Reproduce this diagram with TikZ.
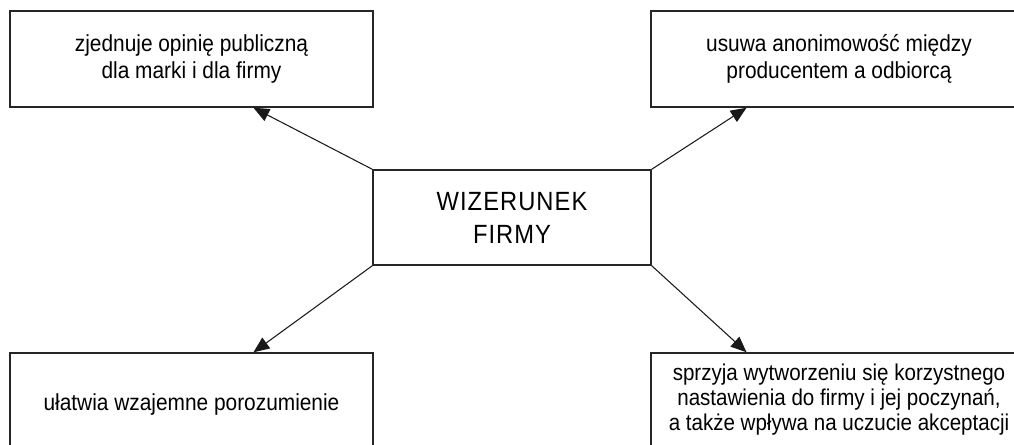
\documentclass[tikz,border=0pt]{standalone}
\usepackage{fontspec}
\setmainfont[FakeStretch=0.9]{Liberation Sans}
\newfontfamily\corefont[FakeStretch=0.9, LetterSpace=4]{Liberation Sans}
\usetikzlibrary{arrows.meta,calc}

\begin{document}
\begin{tikzpicture}[
        x=0.02cm, y=-0.02cm,
        font=\fontsize{13.2}{15}\selectfont,
        >={Triangle[length=9pt, width=7.5pt]},
        box/.style={rectangle, draw=black!85, line width=0.85pt, align=center,
            inner sep=2pt, minimum width=7.26cm, minimum height=1.92cm},
        wide/.style={box, minimum width=7.52cm},
        core/.style={box, minimum width=5.56cm, minimum height=1.9cm,
            font=\corefont\fontsize{15}{18.7}\selectfont},
        link/.style={->, line width=0.6pt, black!90}
    ]
        \path[use as bounding box, clip] (0,0) rectangle (1014,444);

        \node[core] (wiz) at (512,217.5) {WIZERUNEK\\FIRMY};

        \node[box]  (zop)  at (191.5,59)  {zjednuje opinię publiczną\\dla marki i dla firmy};
        \node[wide] (usu)  at (839,59)    {usuwa anonimowość między\\producentem a odbiorcą};
        \node[box, minimum height=2.04cm] (ulat) at (191.5,404) {ułatwia wzajemne porozumienie};
        \node[wide, minimum height=1.88cm, font=\fontsize{13}{14.2}\selectfont] (sprz) at (839,400)
            {sprzyja wytworzeniu się korzystnego\\nastawienia do firmy i jej poczynań,\\a także wpływa na uczucie akceptacji};

        \draw[link] (wiz.north west) -- ($(zop.south west)!0.67!(zop.south east)$);
        \draw[link] (wiz.north east) -- ($(usu.north west |- usu.south)!0.255!(usu.south east)$);
        \draw[link] (wiz.south west) -- ($(ulat.north west)!0.67!(ulat.north east)$);
        \draw[link] (wiz.south east) -- ($(sprz.north west)!0.255!(sprz.north east)$);
    \end{tikzpicture}
\end{document}
